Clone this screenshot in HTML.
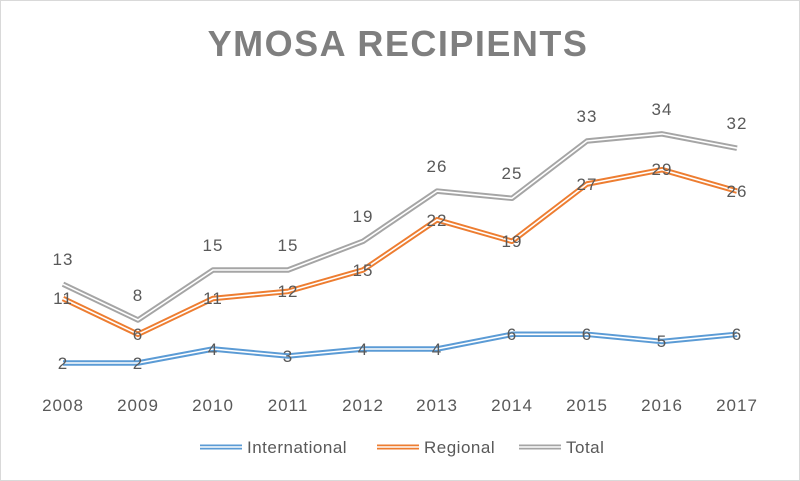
<!DOCTYPE html><html><head><style>body{margin:0;background:#fff}svg{display:block}text{font-family:"Liberation Sans",sans-serif;fill:#595959;letter-spacing:1px}text.lg{letter-spacing:0.5px}</style></head><body>
<svg width="800" height="481" viewBox="0 0 800 481">
<rect x="0.5" y="0.5" width="799" height="480" fill="#fff" stroke="#d9d9d9"/>
<text x="398" y="56" text-anchor="middle" font-size="36" font-weight="bold" style="fill:#7f7f7f;letter-spacing:1.5px">YMOSA RECIPIENTS</text>
<g fill="none" stroke-linejoin="round">
<polyline stroke="#5b9bd5" stroke-width="5.5" points="63,363 138,363 213,349 288,356 363,349 437,349 512,334.3 587,334.3 662,341.5 737,334.3"/>
<polyline stroke="#fff" stroke-width="1.6" points="63,363 138,363 213,349 288,356 363,349 437,349 512,334.3 587,334.3 662,341.5 737,334.3"/>
<polyline stroke="#ed7d31" stroke-width="5.5" points="63,298.5 138,334.3 213,298.5 288,291.4 363,270 437,219.8 512,241.3 587,184 662,169.7 737,191.1"/>
<polyline stroke="#fff" stroke-width="1.6" points="63,298.5 138,334.3 213,298.5 288,291.4 363,270 437,219.8 512,241.3 587,184 662,169.7 737,191.1"/>
<polyline stroke="#a5a5a5" stroke-width="5.5" points="63,284.2 138,320 213,270 288,270 363,241.3 437,191.1 512,198.3 587,141 662,133.9 737,148.2"/>
<polyline stroke="#fff" stroke-width="1.6" points="63,284.2 138,320 213,270 288,270 363,241.3 437,191.1 512,198.3 587,141 662,133.9 737,148.2"/>
</g>
<g font-size="17" text-anchor="middle">
<text x="63" y="369">2</text><text x="138" y="369">2</text><text x="213" y="355">4</text><text x="288" y="362">3</text><text x="363" y="355">4</text><text x="437" y="355">4</text><text x="512" y="340">6</text><text x="587" y="340">6</text><text x="662" y="347">5</text><text x="737" y="340">6</text>
<text x="63" y="304">11</text><text x="138" y="340">6</text><text x="213" y="304">11</text><text x="288" y="297">12</text><text x="363" y="276">15</text><text x="437" y="226">22</text><text x="512" y="247">19</text><text x="587" y="190">27</text><text x="662" y="175">29</text><text x="737" y="197">26</text>
<text x="63" y="265">13</text><text x="138" y="301">8</text><text x="213" y="251">15</text><text x="288" y="251">15</text><text x="363" y="222">19</text><text x="437" y="172">26</text><text x="512" y="179">25</text><text x="587" y="122">33</text><text x="662" y="115">34</text><text x="737" y="129">32</text>
<text x="63" y="411">2008</text><text x="138" y="411">2009</text><text x="213" y="411">2010</text><text x="288" y="411">2011</text><text x="363" y="411">2012</text><text x="437" y="411">2013</text><text x="512" y="411">2014</text><text x="587" y="411">2015</text><text x="662" y="411">2016</text><text x="737" y="411">2017</text>
</g>
<g fill="none">
<line x1="200" y1="447" x2="242" y2="447" stroke="#5b9bd5" stroke-width="5"/><line x1="200" y1="447" x2="242" y2="447" stroke="#fff" stroke-width="1.6"/>
<line x1="377" y1="447" x2="419" y2="447" stroke="#ed7d31" stroke-width="5"/><line x1="377" y1="447" x2="419" y2="447" stroke="#fff" stroke-width="1.6"/>
<line x1="519" y1="447" x2="561" y2="447" stroke="#a5a5a5" stroke-width="5"/><line x1="519" y1="447" x2="561" y2="447" stroke="#fff" stroke-width="1.6"/>
</g>
<g font-size="17"><text class="lg" x="247" y="453">International</text><text class="lg" x="424" y="453">Regional</text><text class="lg" x="566" y="453">Total</text></g>
</svg></body></html>
